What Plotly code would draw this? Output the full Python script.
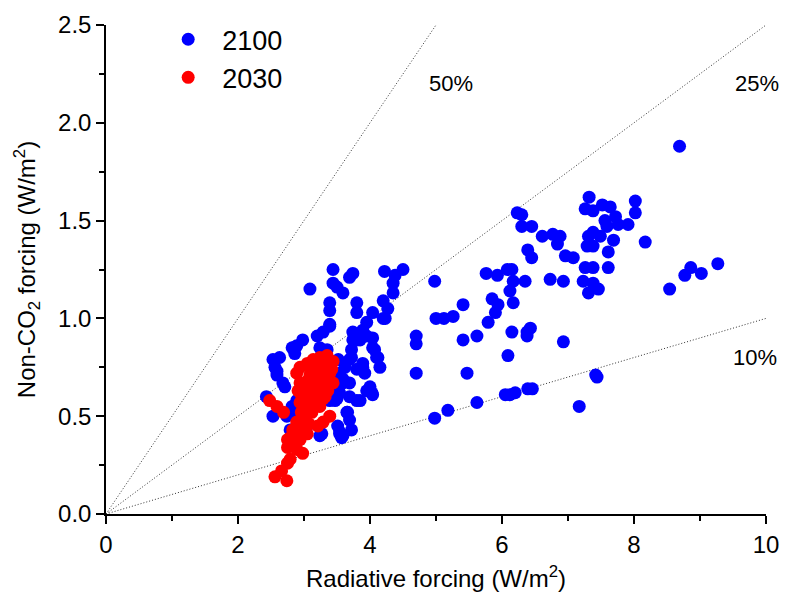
import plotly.graph_objects as go

# ---- data ----
x_2100 = [
    7.32, 7.26, 7.38, 7.52, 7.64, 7.72, 7.56, 7.59, 7.76, 7.91, 7.38, 7.31, 7.69, 7.49, 7.29, 7.61, 7.38,
    6.96, 7.08, 7.26, 7.38, 7.61, 7.23, 7.38, 7.46, 7.31, 6.93, 6.88, 8.17, 8.02, 8.02, 8.69, 8.54, 8.77,
    8.86, 9.02, 9.27,
    6.23, 6.30, 6.30, 6.45, 6.61, 6.77, 6.84, 6.39, 6.45, 4.50, 4.98, 5.76, 5.93, 6.08, 6.15, 6.17, 6.35,
    6.73, 6.12, 5.85, 5.94, 6.17, 5.90, 5.41, 5.00, 5.12, 5.26, 5.79, 4.70, 4.70, 5.41, 5.62, 6.15, 6.38,
    6.43, 6.38, 6.93, 6.09, 4.70, 5.47, 7.44, 7.42, 7.17, 6.46, 6.39, 6.20, 6.05, 6.12, 5.62, 5.18, 4.98,
    3.44, 3.74, 3.69, 3.09, 3.44, 3.50, 3.59, 3.39, 3.39, 3.80, 3.80, 4.22, 4.38, 4.35, 4.35, 4.20, 4.27,
    4.04, 4.20, 3.89, 3.74, 3.80, 4.04, 4.04, 4.10, 3.72, 3.72, 4.15, 3.80, 3.89, 3.59, 3.69, 3.95, 4.04,
    3.80, 3.69, 3.50, 3.65, 3.69, 3.72, 3.59, 3.54, 3.39, 3.29, 3.20, 3.24, 3.35, 2.98, 2.89, 2.82, 2.86,
    2.53, 2.63, 2.56, 2.59, 2.68, 2.71, 2.43, 2.53, 2.74, 2.82, 2.82, 3.27, 3.50, 3.39, 3.95, 3.74, 3.69,
    4.23, 3.95, 3.39, 3.85, 4.07, 4.12, 3.89, 3.92, 3.54, 3.59, 3.54, 3.47, 3.85, 4.03, 4.00, 3.66, 3.54,
    3.51, 2.89, 2.83, 2.79, 3.24, 3.57, 3.35, 3.47, 3.52, 3.62, 2.59, 3.00, 3.10, 3.20, 3.05,
]
y_2100 = [
    1.62, 1.56, 1.55, 1.58, 1.57, 1.52, 1.50, 1.47, 1.48, 1.48, 1.44, 1.42, 1.40, 1.42, 1.37, 1.34, 1.37,
    1.32, 1.31, 1.26, 1.26, 1.26, 1.19, 1.18, 1.15, 1.13, 1.19, 1.42, 1.39, 1.60, 1.54, 1.88, 1.15, 1.22,
    1.26, 1.23, 1.28,
    1.54, 1.53, 1.47, 1.47, 1.42, 1.43, 1.38, 1.35, 1.31, 1.25, 1.19, 1.23, 1.22, 1.25, 1.25, 1.19, 1.19,
    1.20, 1.14, 1.10, 1.07, 1.08, 1.03, 1.07, 1.00, 1.00, 1.01, 0.98, 0.91, 0.87, 0.89, 0.91, 0.93, 0.93,
    0.95, 0.91, 0.88, 0.81, 0.72, 0.72, 0.70, 0.71, 0.55, 0.64, 0.64, 0.62, 0.61, 0.61, 0.57, 0.53, 0.49,
    1.25, 1.23, 1.21, 1.15, 1.18, 1.16, 1.13, 1.08, 1.04, 1.08, 1.03, 1.24, 1.22, 1.18, 1.13, 1.09, 1.05,
    1.03, 1.00, 0.94, 0.93, 0.89, 0.90, 0.85, 0.80, 0.84, 0.80, 0.75, 0.74, 0.75, 0.69, 0.67, 0.63, 0.61,
    0.58, 0.60, 0.59, 0.52, 0.48, 0.43, 0.40, 0.42, 0.96, 0.93, 0.91, 0.85, 0.84, 0.89, 0.86, 0.85, 0.82,
    0.79, 0.80, 0.75, 0.71, 0.67, 0.65, 0.60, 0.50, 0.50, 0.43, 0.55, 0.41, 0.70, 0.58, 0.91, 0.89, 0.79,
    1.00, 0.98, 0.97, 0.89, 0.84, 0.80, 0.77, 0.72, 0.72, 0.67, 0.62, 0.58, 0.58, 0.62, 0.65, 0.52, 0.41,
    0.45, 0.58, 0.52, 0.43, 0.40, 0.39, 0.72, 0.65, 0.79, 0.75, 0.73, 0.65, 0.70, 0.62, 0.45,
]

x_2030 = [
    3.35, 3.24, 3.14, 3.05, 2.94, 2.89, 3.39, 3.39, 3.44, 3.36, 3.29, 3.24, 3.39, 3.29, 3.21, 3.20, 3.09,
    2.94, 2.94, 2.94, 2.98, 2.91, 3.14, 3.14, 3.29, 3.20, 3.06, 3.09, 3.01, 2.89, 2.83, 2.86, 2.79, 2.75,
    2.94, 3.05, 2.75, 2.89, 2.98, 2.79, 2.75, 2.66, 2.56, 2.74, 2.48, 2.59, 2.69, 3.44, 3.42, 3.10, 3.20,
    3.30, 3.15, 3.25, 3.05, 3.00, 3.35, 3.05, 2.90, 2.85, 3.00, 3.12, 3.18, 3.08, 2.96, 3.26, 3.32,
]
y_2030 = [
    0.81, 0.80, 0.79, 0.77, 0.75, 0.72, 0.76, 0.72, 0.67, 0.63, 0.59, 0.55, 0.50, 0.47, 0.45, 0.58, 0.55,
    0.67, 0.62, 0.57, 0.53, 0.63, 0.60, 0.69, 0.72, 0.66, 0.63, 0.71, 0.48, 0.47, 0.43, 0.41, 0.39, 0.38,
    0.38, 0.41, 0.34, 0.33, 0.31, 0.28, 0.26, 0.22, 0.19, 0.17, 0.58, 0.55, 0.52, 0.78, 0.74, 0.75, 0.74,
    0.76, 0.65, 0.62, 0.58, 0.45, 0.68, 0.68, 0.40, 0.35, 0.50, 0.52, 0.70, 0.46, 0.52, 0.66, 0.60,
]

ratio_values = [0.5, 0.25, 0.1]
ratio_labels = ["50%", "25%", "10%"]
ratio_label_x = [5.22, 9.87, 9.83]
ratio_label_y = [2.20, 2.20, 0.80]

x_range = [0, 10]
y_range = [0, 2.5]

FONT = "Liberation Sans"

fig = go.Figure()

# reference lines from the origin
for r in ratio_values:
    x_end = min(x_range[1], y_range[1] / r)
    fig.add_trace(go.Scatter(
        x=[0, x_end], y=[0, r * x_end], mode="lines",
        line=dict(color="#333333", width=1, dash="1px,2px"),
        showlegend=False, hoverinfo="skip"))

fig.add_trace(go.Scatter(
    x=x_2100, y=y_2100, mode="markers", name="2100",
    marker=dict(color="#0000ff", size=13, line=dict(width=0))))
fig.add_trace(go.Scatter(
    x=x_2030, y=y_2030, mode="markers", name="2030",
    marker=dict(color="#ff0000", size=13, line=dict(width=0))))

for lbl, lx, ly in zip(ratio_labels, ratio_label_x, ratio_label_y):
    fig.add_annotation(x=lx, y=ly, text=lbl, showarrow=False,
                       font=dict(family=FONT, size=22, color="black"),
                       xanchor="center", yanchor="middle")

axis_common = dict(
    showline=True, linecolor="black", linewidth=1.5, mirror=False, automargin=False,
    showgrid=False, zeroline=False, ticks="outside", ticklen=8, tickwidth=1.5,
    tickcolor="black", tickfont=dict(family=FONT, size=24, color="black"),
)

fig.update_xaxes(range=x_range, dtick=2, tick0=0, tickformat="d",
                 minor=dict(dtick=1, ticks="outside", ticklen=5, tickwidth=1.5, tickcolor="black"),
                 title=dict(text="Radiative forcing (W/m<sup>2</sup>)",
                            font=dict(family=FONT, size=24, color="black"), standoff=14),
                 **axis_common)
fig.update_yaxes(range=y_range, dtick=0.5, tick0=0, tickformat=".1f",
                 minor=dict(dtick=0.25, ticks="outside", ticklen=5, tickwidth=1.5, tickcolor="black"),
                 title=dict(text="Non-CO<sub>2</sub> forcing (W/m<sup>2</sup>)",
                            font=dict(family=FONT, size=24, color="black"), standoff=16),
                 **axis_common)

fig.update_layout(
    width=785, height=606,
    margin=dict(l=106, r=19, t=25, b=92),
    paper_bgcolor="white", plot_bgcolor="white",
    showlegend=True,
    legend=dict(x=0.073, y=1.02, xanchor="left", yanchor="top",
                font=dict(family=FONT, size=27, color="black"),
                bgcolor="rgba(0,0,0,0)", itemwidth=58, tracegroupgap=0),
)

fig.write_html("out.html", config={"displayModeBar": False},
               post_script="document.body.style.margin='0';")
